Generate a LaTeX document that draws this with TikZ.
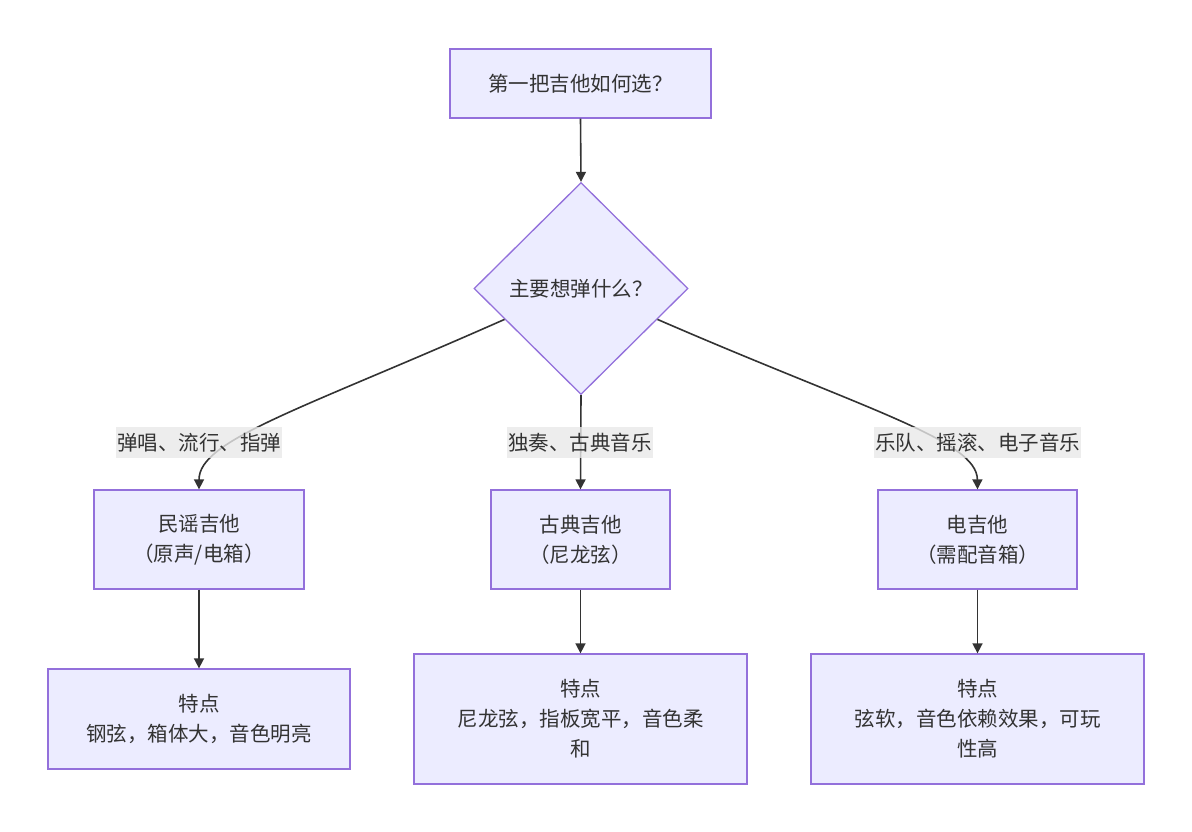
\documentclass[tikz,border=0pt]{standalone}
\usepackage{fontspec}
\newfontfamily\cjk{Noto Sans CJK SC}
\usetikzlibrary{shapes.geometric,arrows.meta}
\definecolor{nodefill}{HTML}{ECECFF}
\definecolor{nodeline}{HTML}{9370DB}
\definecolor{ink}{HTML}{333333}
\definecolor{lblbg}{HTML}{E8E8E8}
\tikzset{
  base/.style={font=\cjk\fontsize{20.5}{30}\selectfont, text=ink, align=center},
  box/.style={base, draw=nodeline, fill=nodefill, line width=1.3pt, rectangle, inner sep=0pt},
  dia/.style={base, draw=nodeline, fill=nodefill, line width=1.3pt, diamond, inner sep=0pt, minimum width=214pt, minimum height=212pt},
  conn/.style={draw=ink, line width=1.6pt, -{Triangle[length=10pt,width=10pt]}},
  lbl/.style={base, fill=lblbg, fill opacity=0.8, text opacity=1, inner xsep=1pt, inner ysep=0pt, minimum height=31pt}
}
\begin{document}
\begin{tikzpicture}[x=1pt,y=-1pt]
\useasboundingbox (0,0) rectangle (1192,831);
\node[box, minimum width=261pt, minimum height=69pt] (t) at (580.5,83.5) {第一把吉他如何选？};
\node[dia] (d) at (581,288.5) {主要想弹什么？};
\node[box, minimum width=210pt, minimum height=99pt] (a) at (199,539.5) {民谣吉他\\（原声/电箱）};
\node[box, minimum width=179pt, minimum height=99pt] (b) at (580.5,539.5) {古典吉他\\（尼龙弦）};
\node[box, minimum width=199pt, minimum height=99pt] (c) at (977.5,539.5) {电吉他\\（需配音箱）};
\node[box, minimum width=302pt, minimum height=100pt] (a2) at (199,719) {特点\\钢弦，箱体大，音色明亮};
\node[box, minimum width=333pt, minimum height=130pt] (b2) at (580.5,719) {特点\\尼龙弦，指板宽平，音色柔\\和};
\node[box, minimum width=333pt, minimum height=130pt] (c2) at (977.5,719) {特点\\弦软，音色依赖效果，可玩\\性高};
\draw[conn] (t.south) -- (d.north);
\draw[conn] (d.202) .. controls (300,410) and (199,440) .. (a.north);
\draw[conn] (d.south) -- (b.north);
\draw[conn] (d.-22) .. controls (866,410) and (977,440) .. (c.north);
\draw[conn] (a.south) -- (a2.north);
\draw[conn] (b.south) -- (b2.north);
\draw[conn] (c.south) -- (c2.north);
\node[lbl] (la) at (199,442.5) {弹唱、流行、指弹};
\node[lbl] (lb) at (580,442.5) {独奏、古典音乐};
\node[lbl] (lc) at (977.5,442.5) {乐队、摇滚、电子音乐};
\end{tikzpicture}
\end{document}
